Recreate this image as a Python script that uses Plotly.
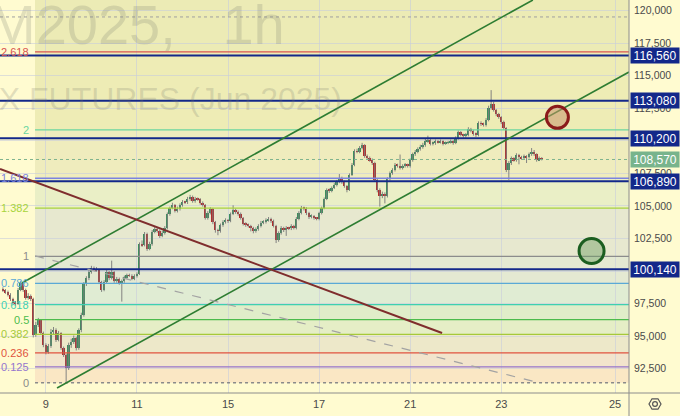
import plotly.graph_objects as go

# RTS index futures (Jun 2025), bougies 1h - prix en milliers de points
open_first_k = 98.62
close_k = [
    98.54, 98.39, 98.16, 97.85, 97.55, 97.47, 98.54, 99.08, 98.54, 97.93,
    98.08, 97.85, 95.09, 95.86, 96.24, 95.24, 94.32, 93.79, 94.24, 95.32,
    95.47, 94.70, 95.24, 94.09, 93.55, 92.56, 94.32, 94.55, 94.86, 94.09,
    95.47, 96.63, 99.00, 99.46, 99.92, 100.23, 100.18, 100.08, 99.16, 98.54,
    99.16, 99.92, 99.46, 99.92, 99.23, 99.39, 99.08, 99.23, 99.54, 99.69,
    99.65, 99.39, 99.62, 99.77, 102.08, 102.00, 102.85, 101.70, 102.08, 103.00,
    103.24, 103.08, 102.70, 102.93, 103.31, 104.39, 104.85, 105.08, 104.62, 104.77,
    105.08, 105.31, 105.28, 105.54, 105.70, 105.39, 105.54, 105.50, 105.23, 105.08,
    104.08, 104.46, 104.77, 103.77, 103.15, 103.08, 103.54, 103.77, 103.92, 103.85,
    104.39, 104.69, 104.54, 104.39, 104.08, 103.62, 103.54, 103.47, 103.31, 103.08,
    103.24, 103.47, 103.70, 103.77, 103.92, 104.00, 103.85, 103.47, 102.39, 102.93,
    103.31, 103.15, 103.31, 103.28, 103.47, 103.31, 104.00, 104.46, 104.85, 104.80,
    104.46, 104.16, 104.23, 104.08, 104.00, 104.46, 104.85, 105.54, 106.23, 106.16,
    106.39, 106.62, 106.85, 107.15, 106.85, 106.54, 106.23, 107.38, 108.15, 109.22,
    109.18, 109.45, 109.68, 108.84, 108.68, 108.53, 108.30, 107.00, 106.23, 105.77,
    105.93, 105.77, 107.07, 107.53, 107.76, 108.15, 108.07, 107.92, 108.07, 108.15,
    108.07, 108.53, 108.99, 109.15, 109.38, 109.53, 109.68, 109.99, 110.07, 109.76,
    109.84, 109.99, 109.91, 109.99, 109.76, 109.84, 109.91, 109.99, 109.84, 110.22,
    110.68, 110.46, 110.38, 110.46, 110.91, 110.76, 110.53, 110.46, 111.37, 111.30,
    111.22, 111.60, 112.52, 112.83, 112.37, 112.06, 111.83, 111.45, 110.99, 107.76,
    108.30, 108.68, 108.53, 108.92, 108.76, 108.68, 108.84, 108.76, 108.99, 109.15,
    108.99, 108.53, 108.68, 108.57]
high_k = [
    98.75, 98.62, 98.50, 98.30, 97.95, 97.70, 98.70, 99.25, 99.15, 98.65,
    98.30, 98.20, 97.95, 96.10, 96.40, 96.30, 95.35, 94.45, 94.40, 95.55,
    95.70, 95.60, 95.40, 95.30, 94.20, 93.65, 94.50, 94.80, 95.05, 94.95,
    95.60, 96.80, 99.15, 99.60, 100.05, 100.40, 100.35, 100.30, 100.15, 99.25,
    99.30, 100.10, 100.00, 100.80, 100.00, 99.55, 99.50, 99.35, 99.65, 99.80,
    99.80, 99.75, 99.75, 99.90, 102.20, 102.35, 103.00, 102.95, 102.25, 103.15,
    103.40, 103.35, 103.20, 103.10, 103.45, 104.50, 104.95, 105.25, 105.15, 104.95,
    105.20, 105.45, 105.40, 105.70, 105.85, 105.80, 105.70, 105.65, 105.60, 105.35,
    105.15, 104.60, 104.90, 104.85, 103.85, 103.25, 103.65, 103.90, 104.05, 104.00,
    104.50, 105.05, 104.80, 104.65, 104.50, 104.15, 103.75, 103.65, 103.55, 103.40,
    103.35, 103.60, 103.85, 103.90, 104.05, 104.15, 104.10, 103.95, 103.55, 103.05,
    103.45, 103.40, 103.45, 103.40, 103.60, 103.55, 104.15, 104.60, 105.00, 104.95,
    104.90, 104.55, 104.35, 104.30, 104.15, 104.55, 104.95, 105.65, 106.35, 106.35,
    106.50, 106.75, 107.00, 107.45, 107.25, 106.95, 106.60, 107.50, 108.30, 109.35,
    109.40, 109.60, 109.85, 109.75, 108.95, 108.80, 108.65, 108.40, 107.10, 106.35,
    106.10, 106.05, 107.20, 107.65, 107.90, 108.30, 108.25, 108.95, 108.20, 108.30,
    108.25, 108.65, 109.10, 109.30, 109.50, 109.70, 109.85, 110.15, 110.40, 110.15,
    109.95, 110.10, 110.05, 110.10, 110.05, 109.95, 110.00, 110.10, 110.05, 110.35,
    110.80, 110.75, 110.55, 110.60, 111.05, 111.00, 110.85, 110.65, 111.50, 111.50,
    111.40, 111.75, 112.70, 113.90, 113.00, 112.45, 112.15, 111.90, 111.55, 111.05,
    108.45, 108.80, 108.75, 109.05, 109.00, 108.85, 108.95, 108.90, 109.10, 109.45,
    109.30, 109.05, 108.80, 108.75]
low_k = [
    98.40, 98.25, 98.05, 97.70, 97.40, 97.35, 97.40, 98.45, 98.40, 97.80,
    97.80, 97.70, 94.90, 94.95, 95.70, 95.10, 94.15, 93.60, 93.65, 94.10,
    95.15, 94.55, 94.60, 93.95, 93.40, 91.42, 92.40, 94.10, 94.40, 93.90,
    93.95, 95.30, 96.50, 98.85, 99.30, 99.80, 100.05, 99.95, 99.00, 98.40,
    98.45, 99.05, 99.30, 99.35, 99.10, 99.10, 98.95, 97.65, 99.10, 99.40,
    99.55, 99.30, 99.30, 99.50, 99.70, 101.85, 101.90, 101.55, 101.60, 101.95,
    102.90, 102.95, 102.55, 102.60, 102.80, 103.20, 104.25, 104.75, 104.50, 104.50,
    104.65, 104.95, 105.15, 105.15, 105.40, 105.25, 105.25, 105.40, 105.10, 104.95,
    103.95, 103.95, 104.35, 103.60, 102.95, 102.75, 102.95, 103.40, 103.65, 103.70,
    103.75, 104.30, 104.40, 104.25, 103.95, 103.50, 103.40, 103.35, 103.05, 102.90,
    102.95, 103.10, 103.35, 103.60, 103.65, 103.80, 103.70, 103.35, 102.15, 102.25,
    102.80, 103.00, 102.70, 103.15, 103.15, 103.20, 103.20, 103.90, 104.35, 104.65,
    104.30, 104.00, 104.05, 103.95, 103.90, 103.90, 104.35, 104.75, 105.45, 106.00,
    106.05, 106.30, 106.50, 106.75, 106.70, 106.40, 106.05, 106.15, 107.30, 108.05,
    109.05, 109.05, 109.35, 108.70, 108.55, 108.40, 108.15, 106.85, 106.05, 104.95,
    105.60, 105.20, 105.65, 106.95, 107.40, 107.65, 107.95, 107.80, 107.80, 107.95,
    107.95, 107.95, 108.40, 108.85, 109.05, 109.25, 109.40, 109.55, 109.85, 109.65,
    109.65, 109.70, 109.80, 109.80, 109.65, 109.70, 109.75, 109.80, 109.70, 109.75,
    110.10, 110.35, 110.25, 110.25, 110.35, 110.65, 110.40, 110.30, 110.35, 111.15,
    111.10, 111.10, 111.50, 112.40, 112.25, 111.90, 111.70, 111.30, 110.85, 107.60,
    107.00, 108.15, 108.40, 108.40, 108.20, 108.55, 108.55, 108.30, 108.65, 108.85,
    108.85, 108.40, 108.45, 108.50]

# axe des temps : index des bougies, un libellé par jour
day_labels = ["9", "11", "15", "17", "21", "23", "25"]
day_bars = [17, 53, 89, 125, 161, 197, 242]
x_range = [-1.15, 247.5]
y_range = [90632, 120822]

# extension de Fibonacci
fib_low = 91420
fib_high = 101130
fib_start = 12.7
fib_ratios = [0, 0.125, 0.236, 0.382, 0.5, 0.618, 0.786, 1, 1.382, 1.618, 2, 2.618]
fib_labels = ["0", "0.125", "0.236", "0.382", "0.5", "0.618", "0.786", "1", "1.382", "1.618", "2", "2.618"]
fib_colors = ["#8a8a8a", "#9575cd", "#e0533f", "#a6c93a", "#4cbb4c", "#3fd0b0",
              "#5aa9d6", "#8c8c8c", "#a8d43c", "#7c83e0", "#6bd6a0", "#d9534f"]
band_colors = ["#fae7c4", "#f2e4cc", "#ede8c9", "#e5eec6", "#e0edc9", "#e0ecd3",
               "#e4e9d2", "#e7e8cf", "#eaefc6", "#efecbd", "#eeecb5", "#ecebb5"]

# niveaux horizontaux et dessins
level_prices = [116560, 113080, 110200, 106890, 100140]
last_price = 108570
top_dotted = 119520
channel_up = ([7.5, 209.5], [99080, 120822])
channel_down = ([21.4, 247.5], [91020, 115290])
brown_line = ([-1.15, 173.6], [107840, 95240])
dashed_line = ([12.7, 212.3], [101160, 91400])
red_circle = (219.2, 111810)
green_circle = (232.7, 101540)

navy = "#13288a"
bg = "#fffbd0"

o = [open_first_k * 1000] + [v * 1000 for v in close_k[:-1]]
c = [v * 1000 for v in close_k]
h = [v * 1000 for v in high_k]
l = [v * 1000 for v in low_k]
idx = list(range(len(c)))

fig = go.Figure()

# mèches
wx, wy = [], []
for i in idx:
    wx += [i, i, None]
    wy += [l[i], h[i], None]
fig.add_trace(go.Scatter(x=wx, y=wy, mode="lines", line=dict(color="rgba(125,125,125,0.95)", width=1),
                         hoverinfo="skip"))

# corps des bougies
bases = [min(o[i], c[i]) for i in idx]
heights = [max(abs(c[i] - o[i]), 15) for i in idx]
cols = ["#3d8d5d" if c[i] >= o[i] else "#b22d2d" for i in idx]
fig.add_trace(go.Bar(x=idx, y=heights, base=bases, width=0.72,
                     marker=dict(color=cols, line=dict(width=0))))

shapes = []
fib_prices = [fib_low + r * (fib_high - fib_low) for r in fib_ratios]
tops = fib_prices[1:] + [y_range[1]]
for k, p in enumerate(fib_prices):
    shapes.append(dict(type="rect", xref="x", yref="y", x0=fib_start, x1=x_range[1], y0=p, y1=tops[k],
                       fillcolor=band_colors[k], line=dict(width=0), layer="below"))
for k, p in enumerate(fib_prices):
    shapes.append(dict(type="line", xref="x", yref="y", x0=fib_start, x1=x_range[1], y0=p, y1=p,
                       line=dict(color=fib_colors[k], width=1.3, dash="dot" if k == 0 else "solid")))

shapes.append(dict(type="line", xref="paper", yref="y", x0=0, x1=1, y0=top_dotted, y1=top_dotted,
                   line=dict(color="#a0a0a0", width=1, dash="dot")))
shapes.append(dict(type="line", xref="paper", yref="y", x0=0, x1=1, y0=last_price, y1=last_price,
                   line=dict(color="#7fb48e", width=1, dash="dot")))
for p in level_prices:
    shapes.append(dict(type="line", xref="paper", yref="y", x0=0, x1=1, y0=p, y1=p,
                       line=dict(color=navy, width=2)))

for (xs, ys), col, w, dash in [(channel_up, "#2e7d32", 1.6, "solid"), (channel_down, "#2e7d32", 1.6, "solid"),
                               (brown_line, "#7f2d2d", 2, "solid"), (dashed_line, "#a3a3a3", 1.2, "dash")]:
    shapes.append(dict(type="line", xref="x", yref="y", x0=xs[0], x1=xs[1], y0=ys[0], y1=ys[1],
                       line=dict(color=col, width=w, dash=dash)))

for (cx, cy), r, fill, edge in [(red_circle, 11, "rgba(200,150,110,0.55)", "#8b1a1a"),
                                (green_circle, 12.5, "rgba(110,160,100,0.45)", "#1b5e20")]:
    shapes.append(dict(type="circle", xref="x", yref="y", xsizemode="pixel", ysizemode="pixel",
                       xanchor=cx, yanchor=cy, x0=-r, x1=r, y0=-r, y1=r,
                       fillcolor=fill, line=dict(color=edge, width=3)))

# bordures du panneau
def px(x, y):
    return x / 629, (393 - y) / 393

shapes.append(dict(type="line", xref="paper", yref="paper", x0=1, x1=1, y0=-23 / 393, y1=1,
                   line=dict(color="#8c8c8c", width=1)))
shapes.append(dict(type="line", xref="paper", yref="paper", x0=0, x1=680 / 629, y0=0, y1=0,
                   line=dict(color="#8c8c8c", width=1)))
hexa = [(661, 404), (658, 398.8), (652, 398.8), (649, 404), (652, 409.2), (658, 409.2)]
path = "M " + " L ".join("%.5f,%.5f" % px(a, b) for a, b in hexa) + " Z"
shapes.append(dict(type="path", xref="paper", yref="paper", path=path, line=dict(color="#555", width=1.2)))
cx0, cy0 = px(652.6, 401.6)
cx1, cy1 = px(657.4, 406.4)
shapes.append(dict(type="circle", xref="paper", yref="paper", x0=cx0, x1=cx1, y0=cy1, y1=cy0,
                   line=dict(color="#555", width=1.2)))

annotations = []
# filigrane
annotations.append(dict(xref="paper", yref="paper", x=287 / 629, y=0.937, xanchor="right", yanchor="middle",
                        text="RIM2025,&nbsp;&nbsp;&nbsp;1h", showarrow=False,
                        font=dict(family="Liberation Sans", size=56, color="rgba(120,122,110,0.22)")))
annotations.append(dict(xref="paper", yref="paper", x=344 / 629, y=0.748, xanchor="right", yanchor="middle",
                        text="RTS INDEX FUTURES (Jun 2025)", showarrow=False,
                        font=dict(family="Liberation Sans", size=32, color="rgba(120,122,110,0.22)")))
for k, p in enumerate(fib_prices):
    annotations.append(dict(xref="x", yref="y", x=fib_start, y=p, xanchor="right", yanchor="middle", xshift=-4,
                            text=fib_labels[k], showarrow=False,
                            font=dict(family="Liberation Sans", size=11, color=fib_colors[k])))
for p, col in [(pp, navy) for pp in level_prices] + [(last_price, "#78b48c")]:
    annotations.append(dict(xref="paper", yref="y", x=1, y=p, xanchor="left", yanchor="middle", xshift=1,
                            text=f"{p:,}", showarrow=False, bgcolor=col, width=46, height=13, borderpad=1,
                            align="center",
                            font=dict(family="Liberation Sans", size=12, color="white")))

fig.update_layout(
    width=680, height=416,
    margin=dict(l=0, r=51, t=0, b=23, autoexpand=False),
    paper_bgcolor=bg, plot_bgcolor=bg,
    showlegend=False, bargap=0,
    shapes=shapes, annotations=annotations,
    xaxis=dict(range=x_range, tickvals=day_bars, ticktext=day_labels, showgrid=True,
               gridcolor="rgba(200,205,220,0.6)", zeroline=False, showline=False, ticks="",
               ticklabelstandoff=3,
               tickfont=dict(family="Liberation Sans", size=11, color="#4a4a4a")),
    yaxis=dict(range=y_range, side="right", dtick=2500, tick0=0, tickformat=",d", showgrid=True,
               gridcolor="rgba(200,205,220,0.6)", zeroline=False, showline=False, ticks="",
               ticklabelstandoff=4,
               tickfont=dict(family="Liberation Sans", size=10.5, color="#4a4a4a")),
)

# page sans marge pour que la figure remplisse la fenêtre
fig.write_html("out.html", config={"displayModeBar": False},
               post_script="document.body.style.margin='0';")
